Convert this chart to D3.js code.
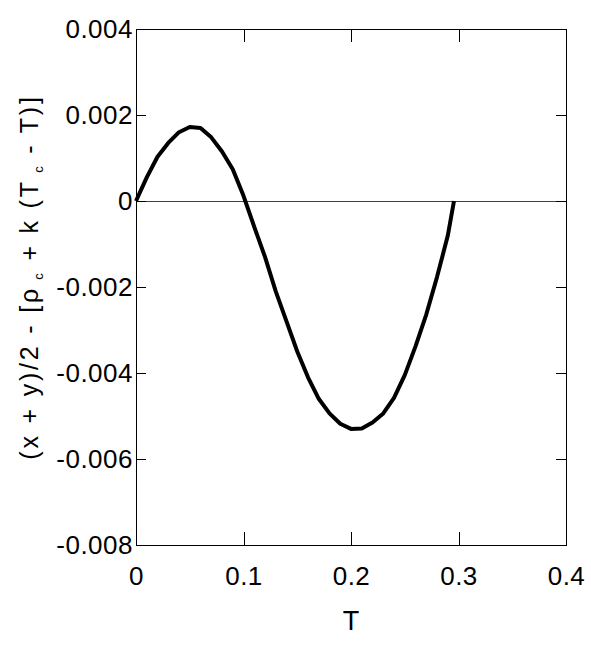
<!DOCTYPE html>
<html>
<head>
  <script src="https://cdn.jsdelivr.net/npm/d3@7"></script>
  <style>
    body { margin: 0; background: #fff; }
    svg { font-family: "Liberation Sans", Arial, sans-serif; }
  </style>
</head>
<body>
  <div id="chart"></div>
  <script>
    // T values and the deviation
    const tVals = [0, 0.01, 0.02, 0.03, 0.04, 0.05, 0.06, 0.07, 0.08, 0.09, 0.10,
      0.11, 0.12, 0.13, 0.14, 0.15, 0.16, 0.17, 0.18, 0.19, 0.20,
      0.21, 0.22, 0.23, 0.24, 0.25, 0.26, 0.27, 0.28, 0.29, 0.2958];
    const devVals = [0, 0.00055, 0.00103, 0.00135, 0.00160, 0.00172, 0.00170, 0.00148, 0.00115, 0.00074, 0.00012,
      -0.0006, -0.0013, -0.0021, -0.0028, -0.0035, -0.0041, -0.0046, -0.00494, -0.00518, -0.0053,
      -0.00529, -0.00515, -0.00494, -0.00458, -0.00405, -0.00338, -0.00264, -0.00177, -0.00081, 0];
    const xTicks = [0, 0.1, 0.2, 0.3, 0.4];
    const yTicks = [0.004, 0.002, 0, -0.002, -0.004, -0.006, -0.008];

    const W = 591, H = 650;
    const margin = {top: 29, right: 25, bottom: 105, left: 136};
    const width = W - margin.left - margin.right;
    const height = H - margin.top - margin.bottom;

    const svg = d3.select("#chart").append("svg")
      .attr("width", W).attr("height", H);
    const g = svg.append("g")
      .attr("transform", `translate(${margin.left},${margin.top})`);

    const x = d3.scaleLinear().domain([0, 0.4]).range([0, width]);
    const y = d3.scaleLinear().domain([-0.008, 0.004]).range([height, 0]);

    const fmtY = d => d === 0 ? "0" : d3.format(".3f")(d).replace("−", "-");
    const fmtX = d => d === 0 ? "0" : d3.format(".1f")(d);

    // zero line
    g.append("line")
      .attr("x1", 0).attr("x2", width)
      .attr("y1", Math.round(y(0)) + 0.5).attr("y2", Math.round(y(0)) + 0.5)
      .attr("stroke", "#1a5a1a").attr("stroke-width", 1)
      .attr("shape-rendering", "crispEdges");

    // axes with inward ticks
    const styleAxis = sel => {
      sel.select(".domain").remove();
      sel.selectAll("line").attr("stroke", "#000").attr("stroke-width", 1)
        .attr("shape-rendering", "crispEdges");
      sel.selectAll("text").attr("fill", "#000").attr("font-size", 26)
        .attr("letter-spacing", 0.5)
        .attr("font-family", "Liberation Sans, Arial, sans-serif");
    };

    g.append("g").attr("transform", `translate(0,${height})`)
      .call(d3.axisBottom(x).tickValues(xTicks).tickFormat(fmtX).tickSizeInner(-13).tickSizeOuter(0).tickPadding(22))
      .call(styleAxis);
    g.append("g")
      .call(d3.axisTop(x).tickValues(xTicks).tickFormat("").tickSizeInner(-13).tickSizeOuter(0))
      .call(styleAxis);
    g.append("g")
      .call(d3.axisLeft(y).tickValues(yTicks).tickFormat(fmtY).tickSizeInner(-10).tickSizeOuter(0).tickPadding(3))
      .call(styleAxis);
    g.append("g").attr("transform", `translate(${width},0)`)
      .call(d3.axisRight(y).tickValues(yTicks).tickFormat("").tickSizeInner(-10).tickSizeOuter(0))
      .call(styleAxis);

    // frame
    g.append("rect")
      .attr("x", 0.5).attr("y", 0.5)
      .attr("width", width).attr("height", height)
      .attr("fill", "none").attr("stroke", "#000").attr("stroke-width", 1)
      .attr("shape-rendering", "crispEdges");

    // curve
    const pts = tVals.map((t, i) => [t, devVals[i]]);
    g.append("path")
      .datum(pts)
      .attr("fill", "none")
      .attr("stroke", "#000")
      .attr("stroke-width", 4)
      .attr("stroke-linejoin", "round")
      .attr("d", d3.line().x(d => x(d[0])).y(d => y(d[1])));

    // axis titles
    svg.append("text")
      .attr("x", margin.left + width / 2).attr("y", 630)
      .attr("text-anchor", "middle").attr("font-size", 27)
      .text("T");

    const yl = svg.append("text")
      .attr("transform", `translate(38,277) rotate(-90)`)
      .attr("text-anchor", "middle").attr("font-size", 25)
      .attr("letter-spacing", 2.8);
    yl.append("tspan").text("(x + y)/2 - [\u03C1");
    yl.append("tspan").attr("font-size", 13).attr("dy", 5).text(" c");
    yl.append("tspan").attr("dy", -5).text(" + k (T");
    yl.append("tspan").attr("font-size", 13).attr("dy", 5).text(" c");
    yl.append("tspan").attr("dy", -5).text(" - T)]");
  </script>
</body>
</html>
